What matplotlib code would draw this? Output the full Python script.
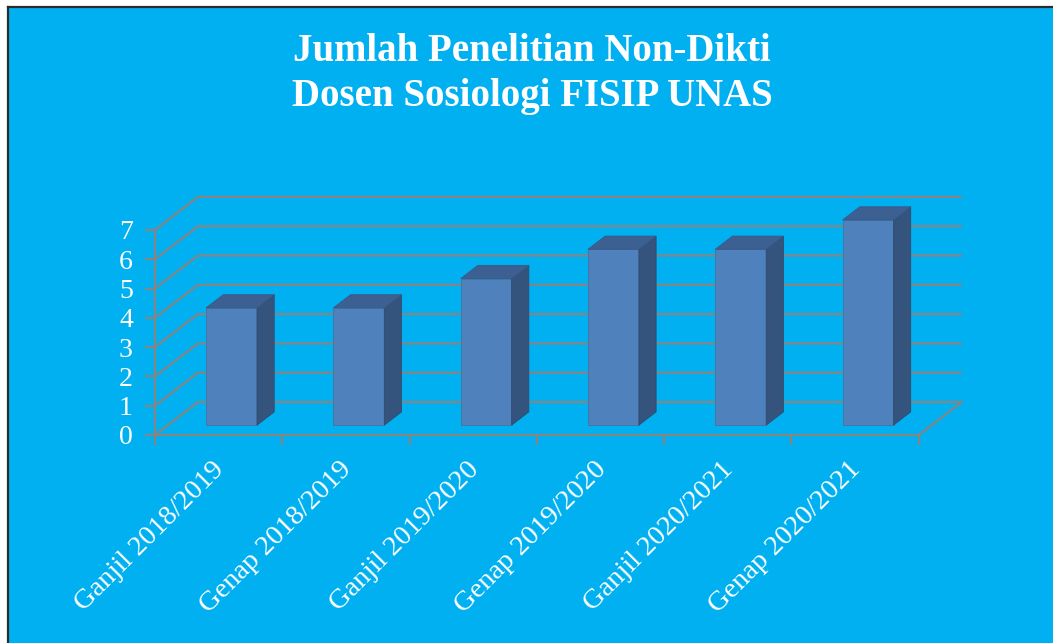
import matplotlib
matplotlib.use("Agg")
import matplotlib.pyplot as plt
from matplotlib.patches import Polygon, Rectangle
from matplotlib.ticker import FixedLocator, NullFormatter
import matplotlib.transforms as mtrans

categories = ["Ganjil 2018/2019", "Genap 2018/2019", "Ganjil 2019/2020",
              "Genap 2019/2020", "Ganjil 2020/2021", "Genap 2020/2021"]
values = [4, 4, 5, 6, 6, 7]
y_ticks = [0, 1, 2, 3, 4, 5, 6, 7]
title = "Jumlah Penelitian Non-Dikti\nDosen Sosiologi FISIP UNAS"

W, H = 1053, 643
fig = plt.figure(figsize=(W / 100, H / 100), dpi=100, facecolor="white")

# background panel with dark top/left border
fig.patches.append(Rectangle((8 / W, 0), 1 - 8 / W, 1 - 7 / H, transform=fig.transFigure,
                             facecolor="#00B0F0", edgecolor="none", zorder=-5))
fig.add_artist(plt.Line2D([7.5 / W, 1], [1 - 6.5 / H, 1 - 6.5 / H], color="#2b2b2b", lw=1.6,
                          transform=fig.transFigure, zorder=-4))
fig.add_artist(plt.Line2D([7.5 / W, 7.5 / W], [0, 1 - 6.5 / H], color="#2b2b2b", lw=1.6,
                          transform=fig.transFigure, zorder=-4))

# geometry (pixel scale)
cat_px = 127.3
val_px = 29.3
DXp, DYp = 43.0, 33.0
n = len(categories)
ymax = max(y_ticks)
DX = DXp / cat_px
DY = DYp / val_px
x0_px, y0_px = 155, 435
ax_w = (n + DX) * cat_px
ax_h = (ymax + DY) * val_px
ax = fig.add_axes([x0_px / W, (H - y0_px) / H, ax_w / W, ax_h / H])
ax.set_zorder(1)
ax.set_xlim(0, n + DX)
ax.set_ylim(0, ymax + DY)
ax.patch.set_visible(False)

grid_c = "#858585"
lw = 1.6
for v in y_ticks:
    ax.plot([0, DX, n + DX], [v, v + DY, v + DY], color=grid_c, lw=lw, zorder=1,
            solid_capstyle="butt", clip_on=False)
# floor right edge
ax.plot([n, n + DX], [0, DY], color=grid_c, lw=lw, zorder=1, clip_on=False)

for s in ["top", "right"]:
    ax.spines[s].set_visible(False)
ax.spines["left"].set_bounds(0, ymax)
ax.spines["bottom"].set_bounds(0, n)
for s in ["left", "bottom"]:
    ax.spines[s].set_color(grid_c)
    ax.spines[s].set_linewidth(lw)

ax.set_yticks(y_ticks)
ax.set_yticklabels([str(t) for t in y_ticks])
ax.xaxis.set_major_locator(FixedLocator(list(range(n + 1))))
ax.xaxis.set_major_formatter(NullFormatter())
ax.tick_params(axis="both", which="major", color=grid_c, width=lw, length=7, direction="out")
ax.tick_params(axis="y", labelcolor="white", labelsize=20, pad=9)
for lab in ax.get_yticklabels():
    lab.set_family("Liberation Serif")

# bars
f0, f1 = 0.30, 0.70
bw = 0.40
front_c, side_c, top_c = "#4F81BD", "#34547E", "#3D6092"
for i, v in enumerate(values):
    xl = i + 0.5 - bw / 2 + f0 * DX
    xr = xl + bw
    yb = f0 * DY
    yt = yb + v
    ddx, ddy = (f1 - f0) * DX, (f1 - f0) * DY
    ax.add_patch(Polygon([(xl, yb), (xr, yb), (xr, yt), (xl, yt)], closed=True,
                         facecolor=front_c, edgecolor="#46729f", lw=0.6, zorder=3))
    ax.add_patch(Polygon([(xr, yb), (xr + ddx, yb + ddy), (xr + ddx, yt + ddy), (xr, yt)],
                         closed=True, facecolor=side_c, edgecolor="#2f4c72", lw=0.6, zorder=3))
    ax.add_patch(Polygon([(xl, yt), (xr, yt), (xr + ddx, yt + ddy), (xl + ddx, yt + ddy)],
                         closed=True, facecolor=top_c, edgecolor="#375a87", lw=0.6, zorder=3))

# category labels
off = mtrans.ScaledTranslation(1.5 / 72, -22 / 72, fig.dpi_scale_trans)
for i, c in enumerate(categories):
    ax.text(i + 0.5, 0, c, rotation=45, ha="right", va="center", rotation_mode="anchor",
            color="white", fontsize=20.5, family="Liberation Serif",
            transform=ax.transData + off, clip_on=False)

fig.text(532 / W, 1 - 74 / H, title, ha="center", va="center", color="white",
         fontsize=28, fontweight="bold", family="Liberation Serif", linespacing=1.3)

fig.savefig("out.png", dpi=100, facecolor="white")
